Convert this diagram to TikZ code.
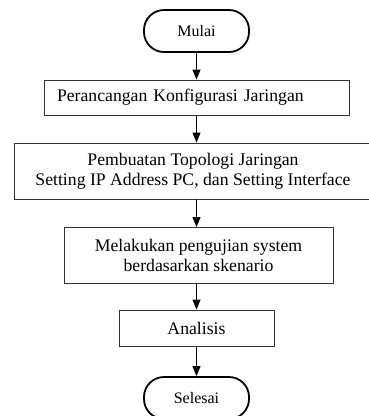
\documentclass[tikz,border=0pt]{standalone}
\usepackage{fontspec}
\setmainfont{Liberation Serif}
\usetikzlibrary{arrows.meta}
\begin{document}
\begin{tikzpicture}[x=1pt,y=-1pt,
  term/.style={draw=black,line width=1.8pt,rounded corners=20pt,minimum width=105pt,minimum height=42pt,inner sep=0pt,font=\fontsize{16}{19}\selectfont},
  proc/.style={draw=black!80,line width=0.9pt,inner sep=0pt,font=\fontsize{17.7}{20}\selectfont,align=center},
  flow/.style={line width=0.9pt,-{Triangle[length=10pt,width=8pt]}}]
\useasboundingbox (0,0) rectangle (368,416);
\node[term] (start) at (196.5,31) {Mulai};
\node[proc,minimum width=305pt,minimum height=35pt,text width=279pt,align=left] (b1) at (196.5,97.5) {Perancangan Konfigurasi Jaringan};
\node[proc,minimum width=358pt,minimum height=56pt] (b2) at (193,171) {Pembuatan Topologi Jaringan\\Setting IP Address PC, dan Setting Interface};
\node[proc,minimum width=269pt,minimum height=56pt] (b3) at (198.5,255.5) {Melakukan pengujian system\\berdasarkan skenario};
\node[proc,minimum width=155pt,minimum height=36pt] (b4) at (196.5,328) {Analisis};
\node[term] (end) at (196.5,398) {Selesai};
\draw[flow] (start.south) -- (start.south |- b1.north);
\draw[flow] (b1.south) -- (b1.south |- b2.north);
\draw[flow] (b1.south |- b2.south) -- (b1.south |- b3.north);
\draw[flow] (b4.north |- b3.south) -- (b4.north);
\draw[flow] (b4.south) -- (end.north);
\end{tikzpicture}
\end{document}
